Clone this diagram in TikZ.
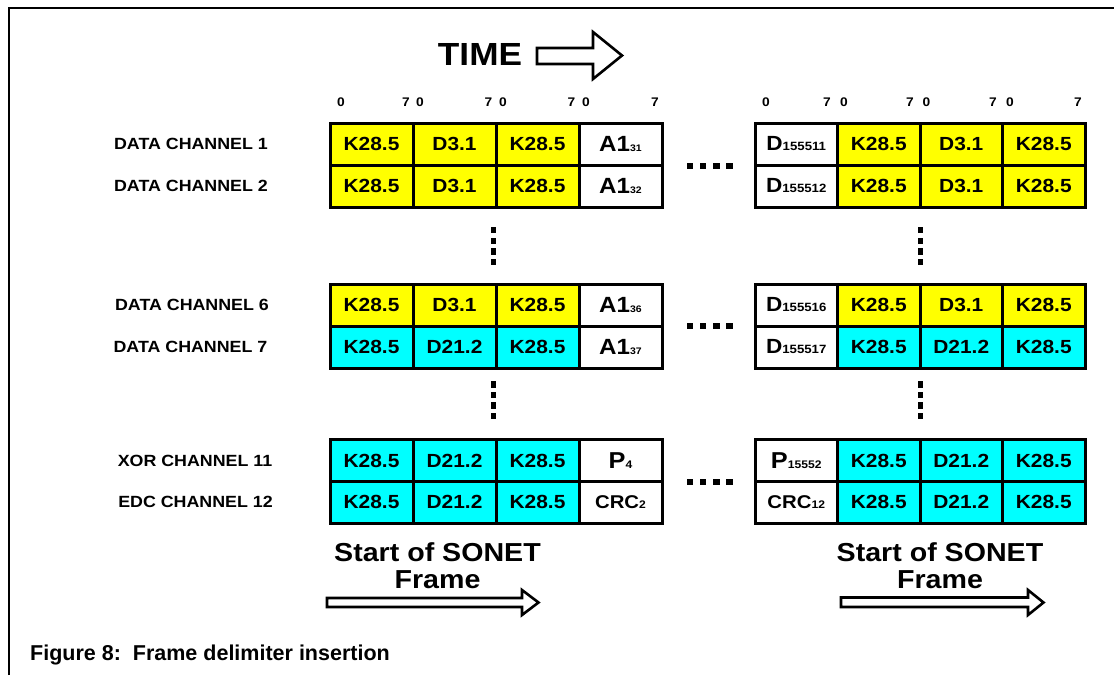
\documentclass[tikz,border=0pt]{standalone}
\usepackage{fontspec}
\newfontfamily\figfont{Liberation Sans}[FakeStretch=1.1]
\newfontfamily\capfont{Liberation Sans}
\newcommand\fsz[1]{\fontsize{#1}{#1}\selectfont}
% large symbol followed by a small index on the same baseline
\newcommand\idx[4]{{\fsz{#1}#2}{\fsz{#3}#4}}
\definecolor{kyellow}{HTML}{FFFF00}
\definecolor{kcyan}{HTML}{00FFFF}
\tikzset{
  cellbox/.style={draw, line width=3pt, minimum height=42pt, inner sep=0pt,
    font=\figfont\bfseries\fsz{19}},
  bitlabel/.style={inner sep=0pt, font=\figfont\bfseries\fsz{12.5}},
  chlabel/.style={inner sep=0pt, font=\figfont\bfseries\fsz{16.2}},
  sonet/.style={inner sep=0pt, anchor=base, font=\figfont\bfseries\fsz{26}},
  hollowarrow/.style={draw, line width=2.6pt, fill=white, miter limit=10},
  dotsq/.style={fill=black},
}
% one row of cells: name, left x, cell width, centre y, list of text/colour
\newcommand\cellrow[5]{%
  \foreach \t/\c [count=\i] in {#5}
    \node[cellbox, minimum width=#3pt, fill=\c] (#1-\i) at ({#2+#3*(\i-0.5)}, #4) {\t};%
}
\begin{document}
\begin{tikzpicture}[x=1pt, y=-1pt]
\useasboundingbox (0,0) rectangle (1114,675);

% figure frame (top and left rules)
\draw[line width=2pt] (9,675) -- (9,8) -- (1114,8);

% time arrow
\node[inner sep=0pt, anchor=base, font=\figfont\bfseries\fsz{32}] (time) at (480,65) {TIME};
\draw[hollowarrow] (537,48) -- (593,48) -- (593,32) -- (622,55.5) -- (593,79) -- (593,64) -- (537,64) -- cycle;

% bit numbering above both frame segments
\foreach \x/\b [count=\i] in {341/0,406/7,420/0,488.5/7,503/0,571.5/7,586/0,655/7}
  \node[bitlabel] (bitL\i) at (\x,102.5) {\b};
\foreach \x/\b [count=\i] in {766/0,827/7,844/0,910/7,926.5/0,993/7,1010/0,1078/7}
  \node[bitlabel] (bitR\i) at (\x,102.5) {\b};

% channel names
\node[chlabel] (ch1)  at (191,144)   {DATA CHANNEL 1};
\node[chlabel] (ch2)  at (191,186)   {DATA CHANNEL 2};
\node[chlabel] (ch6)  at (192,305)   {DATA CHANNEL 6};
\node[chlabel] (ch7)  at (190.5,347) {DATA CHANNEL 7};
\node[chlabel] (ch11) at (195,460.5) {XOR CHANNEL 11};
\node[chlabel] (ch12) at (195.5,502) {EDC CHANNEL 12};

% channels 1 and 2
\cellrow{a1}{330}{83}{144}{K28.5/kyellow,D3.1/kyellow,K28.5/kyellow,{\idx{22}{A1}{9.5}{31}}/white}
\cellrow{a2}{330}{83}{186}{K28.5/kyellow,D3.1/kyellow,K28.5/kyellow,{\idx{22}{A1}{9.5}{32}}/white}
\cellrow{b1}{755}{82.5}{144}{{\idx{20.5}{D}{12}{155511}}/white,K28.5/kyellow,D3.1/kyellow,K28.5/kyellow}
\cellrow{b2}{755}{82.5}{186}{{\idx{20.5}{D}{12}{155512}}/white,K28.5/kyellow,D3.1/kyellow,K28.5/kyellow}

% channels 6 and 7
\cellrow{a6}{330}{83}{305}{K28.5/kyellow,D3.1/kyellow,K28.5/kyellow,{\idx{22}{A1}{9.5}{36}}/white}
\cellrow{a7}{330}{83}{347}{K28.5/kcyan,D21.2/kcyan,K28.5/kcyan,{\idx{22}{A1}{9.5}{37}}/white}
\cellrow{b6}{755}{82.5}{305}{{\idx{20.5}{D}{12}{155516}}/white,K28.5/kyellow,D3.1/kyellow,K28.5/kyellow}
\cellrow{b7}{755}{82.5}{347}{{\idx{20.5}{D}{12}{155517}}/white,K28.5/kcyan,D21.2/kcyan,K28.5/kcyan}

% channels 11 and 12
\cellrow{a11}{330}{83}{460.5}{K28.5/kcyan,D21.2/kcyan,K28.5/kcyan,{\idx{23}{P}{11}{4}}/white}
\cellrow{a12}{330}{83}{502}{K28.5/kcyan,D21.2/kcyan,K28.5/kcyan,{\idx{18.5}{CRC}{11}{2}}/white}
\cellrow{b11}{755}{82.5}{460.5}{{\idx{23}{P}{11}{15552}}/white,K28.5/kcyan,D21.2/kcyan,K28.5/kcyan}
\cellrow{b12}{755}{82.5}{502}{{\idx{18.5}{CRC}{11}{12}}/white,K28.5/kcyan,D21.2/kcyan,K28.5/kcyan}

% vertical ellipsis between channel groups
\foreach \x in {493.5,920.5}{
  \foreach \y in {230,240.7,251.4,262.1}
    \fill[dotsq] (\x-2.8,\y-3.2) rectangle (\x+2.8,\y+3.2);
  \foreach \y in {384.5,395,405.5,416}
    \fill[dotsq] (\x-2.8,\y-3.2) rectangle (\x+2.8,\y+3.2);
}
% horizontal ellipsis between frame segments
\foreach \y in {165.5,326,481.5}
  \foreach \x in {690,703.1,716.2,729.3}
    \fill[dotsq] (\x-3.3,\y-3) rectangle (\x+3.3,\y+3);

% start-of-frame markers
\node[sonet] (sofL1) at (437.5,561.5) {Start of SONET};
\node[sonet] (sofL2) at (437.5,588.5) {Frame};
\node[sonet] (sofR1) at (940,561.5) {Start of SONET};
\node[sonet] (sofR2) at (940,588.5) {Frame};
\draw[hollowarrow] (327,598) -- (522,598) -- (522,590) -- (538.5,602.5) -- (522,615) -- (522,607) -- (327,607) -- cycle;
\draw[hollowarrow] (841,597.5) -- (1028,597.5) -- (1028,590) -- (1043.5,602.5) -- (1028,615) -- (1028,607) -- (841,607) -- cycle;

% caption
\node[inner sep=0pt, anchor=base west, font=\capfont\bfseries\fsz{21.5}] (caption) at (30,660)
  {Figure 8:\ \ Frame delimiter insertion};
\end{tikzpicture}
\end{document}
